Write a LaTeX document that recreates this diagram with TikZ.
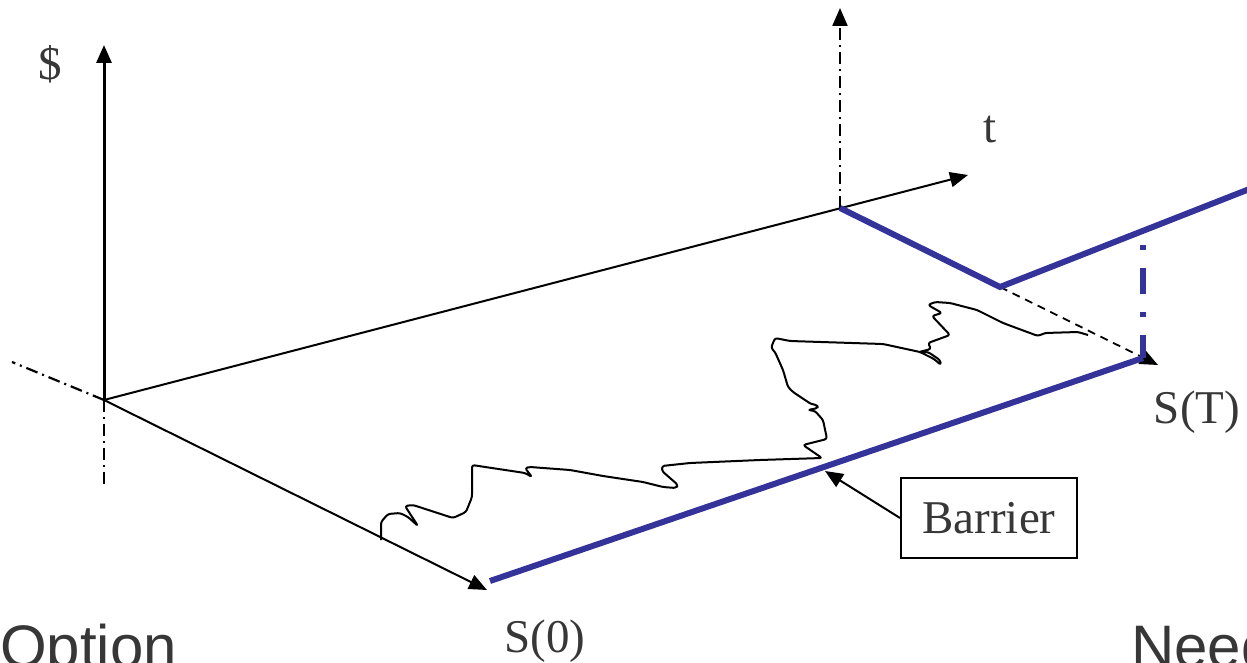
\documentclass[tikz,border=0pt]{standalone}
\usepackage{fontspec}
\setmainfont{Liberation Serif}
\newfontfamily\sansf{Liberation Sans}
\usetikzlibrary{arrows.meta}
\definecolor{barblue}{RGB}{51,51,153}
\definecolor{txtgray}{RGB}{55,55,55}
\begin{document}
\begin{tikzpicture}[x=1pt,y=-1pt,
  lbl/.style={text=txtgray, font=\fontsize{47}{50}\selectfont, inner sep=0pt},
  biglbl/.style={text=txtgray, font=\sansf\fontsize{60}{64}\selectfont, inner sep=0pt},
  axisline/.style={line width=2pt, -{Triangle[length=18pt,width=15pt]}},
  dashdotline/.style={line width=2.2pt, dash pattern=on 12pt off 5pt on 2pt off 5pt},
  blueline/.style={barblue, line width=6pt},
  pathline/.style={line width=2pt, rounded corners=2.5pt, line join=round}
]
\useasboundingbox (0,0) rectangle (1247,663);

% coordinates
\coordinate (O) at (104,400);
\coordinate (Dtop) at (104,45);
\coordinate (Lft) at (12,362);
\coordinate (Dn) at (104,488);
\coordinate (S0tip) at (487,590);
\coordinate (B0) at (490,581);
\coordinate (BT) at (1143,358);
\coordinate (C) at (840,208);
\coordinate (Ttip) at (968,175);
\coordinate (Ctop) at (840,8);
\coordinate (K) at (1000,287);
\coordinate (R) at (1252,188);
\coordinate (STtip) at (1158,365);
\coordinate (Vtop) at (1143,245);
\coordinate (Btip) at (825,471);

% axes
\draw[axisline, line width=3pt] (O) -- (Dtop);
\draw[dashdotline] (O) -- (Lft);
\draw[dashdotline] (O) -- (Dn);
\draw[axisline] (O) -- (Ttip);
\draw[axisline] (O) -- (S0tip);
\draw[dashdotline, -{Triangle[length=18pt,width=15pt]}] (C) -- (Ctop);
\draw[line width=1.8pt, dash pattern=on 8pt off 6pt, -{Triangle[length=18pt,width=15pt]}] (K) -- (STtip);

% random path
\draw[pathline] (381,540) -- (381,522) -- (388,514) -- (400,513) -- (408,517) -- (418,526)
  -- (405,506) -- (413,505) -- (453,518) -- (466,512) -- (472,497) -- (472,465)
  -- (525,473) -- (532,477) -- (525,468) -- (530,467) -- (570,470) -- (603,476)
  -- (643,482) -- (663,487) -- (676,488) -- (678,485) -- (662,471) -- (662,466)
  -- (690,463) -- (760,460) -- (822,458) -- (803,445) -- (827,439) -- (823,420)
  -- (815,411) -- (808,410) -- (818,408) -- (817,405) -- (811,404) -- (793,392)
  -- (788,387) -- (783,370) -- (775,352) -- (771,348) -- (775,338) -- (790,341)
  -- (883,344) -- (920,352) -- (934,359) -- (941,365) -- (940,360) -- (928,352)
  -- (919,352) -- (931,349) -- (928,343) -- (950,335) -- (932,316) -- (942,313)
  -- (928,305) -- (935,302) -- (950,303) -- (977,310) -- (1003,323) -- (1038,336)
  -- (1045,333) -- (1078,332) -- (1088,335);

% blue lines
\draw[blueline] (B0) -- (BT);
\draw[blueline, line join=miter] (C) -- (K) -- (R);
\draw[blueline, dash pattern=on 5pt off 18pt on 26pt off 18pt] (Vtop) -- (BT);

% barrier label
\node[lbl, draw=black, line width=2pt, minimum width=176pt, minimum height=80pt] (bar) at (989,518) {Barrier};
\draw[line width=2pt, -{Triangle[length=18pt,width=15pt]}] (bar.west) -- (Btip);

% labels
\node[lbl] (dollar) at (50,64) {\$};
\node[lbl] (tlab) at (990,130) {t};
\node[lbl] (ST) at (1197,412) {S(T)};
\node[lbl] (S0) at (545,641) {S(0)};
\node[biglbl, anchor=base west] (opt) at (0,667) {Option};
\node[biglbl, anchor=base west] (need) at (1131,667) {Need};
\end{tikzpicture}
\end{document}
